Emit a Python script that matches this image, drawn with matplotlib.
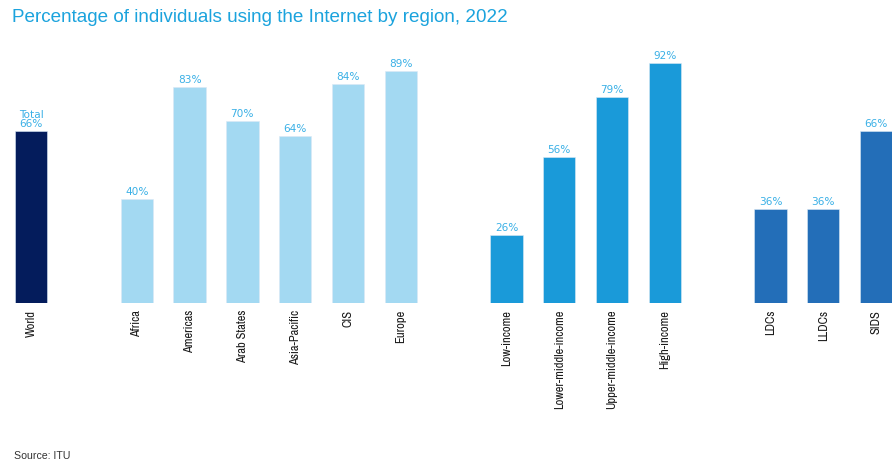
import matplotlib.pyplot as plt

# Internet use by region, 2022 (percent of individuals)
world = ['World']
world_vals = [66]
regions = ['Africa', 'Americas', 'Arab States', 'Asia-Pacific', 'CIS', 'Europe']
region_vals = [40, 83, 70, 64, 84, 89]
income = ['Low-income', 'Lower-middle-income', 'Upper-middle-income', 'High-income']
income_vals = [26, 56, 79, 92]
special = ['LDCs', 'LLDCs', 'SIDS']
special_vals = [36, 36, 66]

plt.rcParams['font.family'] = ['Liberation Sans', 'DejaVu Sans']

groups = [
    (world, world_vals, '#041c5c', 0),
    (regions, region_vals, '#a3d9f2', 2),
    (income, income_vals, '#1a9ad9', 9),
    (special, special_vals, '#236eb8', 14),
]

fig = plt.figure(figsize=(8.92, 4.61), dpi=100)
ax = fig.add_axes([0, 0.3427, 1, 0.908 - 0.3427])

ticks, tick_labels = [], []
for labels, vals, color, start in groups:
    xs = [start + i for i in range(len(vals))]
    ax.bar(xs, vals, width=0.61, color=color, edgecolor='#dbe9f5', linewidth=0.4)
    for x, v, name in zip(xs, vals, labels):
        txt = 'Total\n%d%%' % v if name == 'World' else '%d%%' % v
        ax.text(x, v + 0.7, txt, ha='center', va='bottom', fontsize=7.6,
                family='DejaVu Sans', color='#3ab0e6', linespacing=0.95)
    ticks += xs
    tick_labels += labels

ax.set_xlim(-0.59, 16.3)
ax.set_ylim(0, 100)
ax.set_xticks(ticks)
ax.set_xticklabels(tick_labels, rotation=90, fontsize=9,
                   family=['Archivo Narrow', 'Liberation Sans'], color='#1a1a1a')
ax.tick_params(axis='x', length=0, pad=5)
ax.set_yticks([])
for s in ax.spines.values():
    s.set_visible(False)

fig.text(0.0135, 0.962, 'Percentage of individuals using the Internet by region, 2022',
         fontsize=13.6, color='#1ba3dd', va='center')
fig.text(0.016, 0.0, 'Source: ITU', fontsize=7.6, color='#333333', va='bottom')

fig.savefig('out.png', dpi=100)
